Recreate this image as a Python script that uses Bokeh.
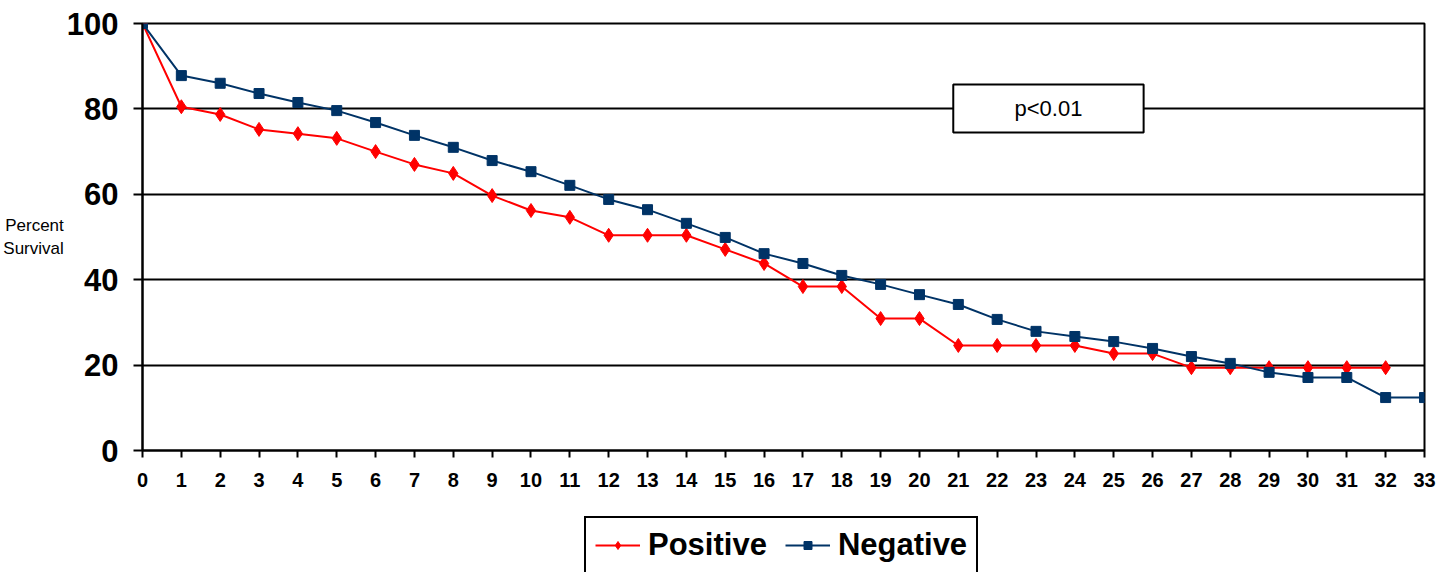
from bokeh.plotting import figure
from bokeh.layouts import column
from bokeh.models import (Range1d, FixedTicker, Legend, LegendItem, Label,
                          BoxAnnotation, ColumnDataSource)
from bokeh.embed import file_html
from bokeh.resources import INLINE

# ---- data ----
months = list(range(0, 34))
positive = [100, 80.5, 78.7, 75.2, 74.2, 73.1, 70.0, 67.0, 64.9, 59.7, 56.2,
            54.6, 50.4, 50.4, 50.4, 47.1, 43.8, 38.4, 38.4, 30.9, 30.9, 24.6,
            24.6, 24.6, 24.6, 22.7, 22.7, 19.4, 19.4, 19.4, 19.4, 19.4, 19.4]
negative = [100, 87.8, 86.0, 83.6, 81.5, 79.6, 76.8, 73.8, 71.0, 67.9, 65.3,
            62.1, 58.8, 56.4, 53.2, 49.9, 46.1, 43.8, 41.0, 38.9, 36.5, 34.2,
            30.7, 27.9, 26.7, 25.5, 23.9, 22.0, 20.4, 18.3, 17.1, 17.1, 12.4, 12.4]
y_ticks = [0, 20, 40, 60, 80, 100]
x_ticks = months
series_names = ["Positive", "Negative"]
annotation_text = "p<0.01"
y_label_lines = ["Percent", "Survival"]

FONT = "Liberation Sans"
RED = "#FF0000"
NAVY = "#003366"

pos_src = ColumnDataSource(dict(x=months[:len(positive)], y=positive))
neg_src = ColumnDataSource(dict(x=months[:len(negative)], y=negative))

p = figure(frame_width=1282, frame_height=427, output_backend="svg",
           toolbar_location=None,
           x_range=Range1d(0, 33), y_range=Range1d(0, 100),
           min_border_left=141, min_border_right=20, min_border_top=23,
           min_border_bottom=50)
p.background_fill_color = "white"
p.border_fill_color = "white"
p.outline_line_color = "black"
p.outline_line_width = 2

# grid
p.xgrid.grid_line_color = None
p.ygrid.ticker = FixedTicker(ticks=y_ticks)
p.ygrid.grid_line_color = "black"
p.ygrid.grid_line_width = 2

# axes
p.xaxis.ticker = FixedTicker(ticks=x_ticks)
p.yaxis.ticker = FixedTicker(ticks=y_ticks)
for ax in (p.xaxis[0], p.yaxis[0]):
    ax.axis_line_color = "black"
    ax.axis_line_width = 2
    ax.major_tick_line_color = "black"
    ax.major_tick_line_width = 2
    ax.major_tick_in = 0
    ax.minor_tick_line_color = None
    ax.major_label_text_font = FONT
    ax.major_label_text_font_style = "bold"
    ax.major_label_text_color = "black"
p.xaxis.major_tick_out = 7
p.xaxis.major_label_text_font_size = "20px"
p.xaxis.major_label_standoff = 15
p.yaxis.major_tick_out = 9
p.yaxis.major_label_text_font_size = "31px"
p.yaxis.major_label_standoff = 15

# y-axis title: two horizontal lines left of the tick labels
yax = p.yaxis[0]
yax.axis_label = "\n".join(y_label_lines)
yax.axis_label_text_font = FONT
yax.axis_label_text_font_size = "17px"
yax.axis_label_text_font_style = "normal"
yax.axis_label_text_color = "black"
yax.axis_label_standoff = 0
try:
    yax.axis_label_orientation = "horizontal"
except Exception:
    pass

# p-value box
box = BoxAnnotation(left=20.87, right=25.77, bottom=74.5, top=85.7,
                    fill_color="white", fill_alpha=1.0,
                    line_color="black", line_width=2, line_alpha=1.0)
p.add_layout(box)
p.add_layout(Label(x=23.32, y=80.1, text=annotation_text, text_font=FONT,
                   text_font_size="22px", text_align="center",
                   text_baseline="middle", text_color="black"))

# series
def add_series(fig):
    l1 = fig.line("x", "y", source=pos_src, line_color=RED, line_width=2)
    m1 = fig.scatter("x", "y", source=pos_src, marker="diamond", size=14,
                     fill_color=RED, line_color=RED)
    l2 = fig.line("x", "y", source=neg_src, line_color=NAVY, line_width=2)
    m2 = fig.scatter("x", "y", source=neg_src, marker="square", size=10,
                     fill_color=NAVY, line_color=NAVY)
    return l1, m1, l2, m2

add_series(p)

# legend strip below the chart (its own series copies sit outside its ranges)
leg = figure(width=1443, height=72, output_backend="svg", toolbar_location=None,
             x_range=Range1d(-20, -19), y_range=Range1d(-20, -19),
             x_axis_type=None, y_axis_type=None, min_border=0)
leg.outline_line_color = None
leg.grid.visible = False
leg.background_fill_color = "white"
leg.border_fill_color = "white"
l1, m1, l2, m2 = add_series(leg)

legend = Legend(items=[LegendItem(label=series_names[0], renderers=[l1, m1]),
                       LegendItem(label=series_names[1], renderers=[l2, m2])],
                orientation="horizontal", location=(442, -2),
                label_text_font=FONT, label_text_font_size="31px",
                label_text_font_style="bold", label_text_color="black",
                border_line_color="black", border_line_width=2,
                border_line_alpha=1.0, background_fill_alpha=1.0,
                glyph_width=45, glyph_height=20, label_standoff=8,
                spacing=18, padding=9, margin=0)
leg.add_layout(legend)

layout = column(p, leg, spacing=0)
open("out.html", "w").write(file_html(layout, INLINE))
